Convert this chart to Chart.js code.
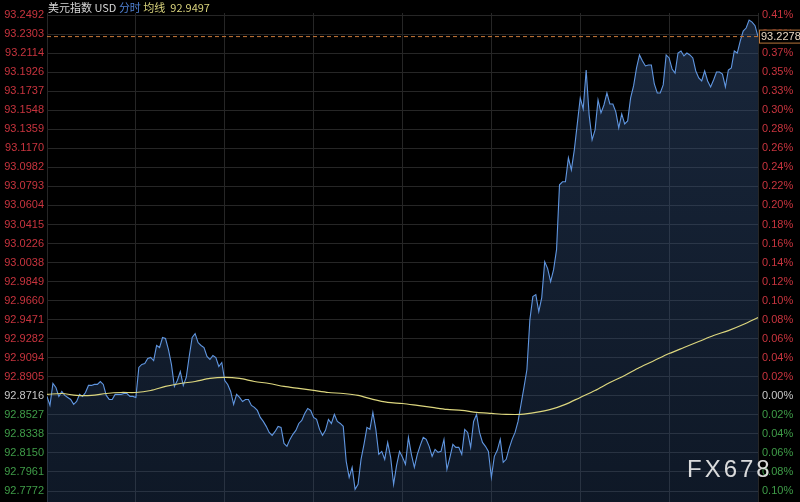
<!DOCTYPE html>
<html>
<head>
<meta charset="utf-8">
<script src="https://cdn.jsdelivr.net/npm/chart.js@4.4.0/dist/chart.umd.min.js"></script>
<style>
  html, body { margin: 0; padding: 0; background: #000; }
  #wrap { position: relative; width: 800px; height: 502px; overflow: hidden; }
  #header { position: absolute; left: 48px; top: 0; font-size: 11px; line-height: 14px;
            font-family: "Noto Sans CJK SC", "Liberation Sans", sans-serif; white-space: pre; }
  #mark { position: absolute; left: 687px; top: 455px; font-size: 24px; letter-spacing: 3px;
          font-family: "Liberation Sans", Arial, sans-serif; color: rgba(235,235,235,0.92); }
</style>
</head>
<body>
<div id="wrap">
  <canvas id="chart" width="800" height="502"></canvas>
  <div id="header"><span style="color:#d6d6d6">美元指数 USD</span> <span style="color:#4f80d2">分时</span> <span style="color:#d8d27c">均线</span>  <span id="avgText" style="color:#d8d27c"></span></div>
  <div id="mark">FX678</div>
</div>
<script>
// tick labels, top to bottom
const priceTickLabels = ["93.2492", "93.2303", "93.2114", "93.1926", "93.1737", "93.1548", "93.1359",
    "93.1170", "93.0982", "93.0793", "93.0604", "93.0415", "93.0226", "93.0038", "92.9849", "92.9660",
    "92.9471", "92.9282", "92.9094", "92.8905", "92.8716", "92.8527", "92.8338", "92.8150", "92.7961", "92.7772"];
const pctTickLabels = ["0.41%", "0.39%", "0.37%", "0.35%", "0.33%", "0.30%", "0.28%", "0.26%", "0.24%",
    "0.22%", "0.20%", "0.18%", "0.16%", "0.14%", "0.12%", "0.10%", "0.08%", "0.06%", "0.04%", "0.02%",
    "0.00%", "0.02%", "0.04%", "0.06%", "0.08%", "0.10%"];

const basePrice = 92.8716;
const lastPrice = 93.2278;
const avgLast = "92.9497";

// price every 6 minutes over the session (1440 min)
const prices = [
    92.8710, 92.8621, 92.8838, 92.8799, 92.8710, 92.8759, 92.8720, 92.8700, 92.8680, 92.8631,
    92.8660, 92.8730, 92.8710, 92.8749, 92.8819, 92.8819, 92.8829, 92.8829, 92.8858, 92.8829,
    92.8720, 92.8680, 92.8680, 92.8730, 92.8730, 92.8730, 92.8739, 92.8739, 92.8710, 92.8710,
    92.8700, 92.8997, 92.9027, 92.9036, 92.9086, 92.9096, 92.9066, 92.9215, 92.9195, 92.9294,
    92.9284, 92.9175, 92.9027, 92.8809, 92.8868, 92.8957, 92.8819, 92.8898, 92.9106, 92.9294,
    92.9333, 92.9244, 92.9215, 92.9195, 92.9106, 92.9076, 92.9116, 92.9096, 92.9007, 92.9046,
    92.8868, 92.8829, 92.8759, 92.8631, 92.8730, 92.8700, 92.8660, 92.8680, 92.8680, 92.8621,
    92.8601, 92.8571, 92.8502, 92.8462, 92.8413, 92.8353, 92.8324, 92.8363, 92.8413, 92.8403,
    92.8244, 92.8215, 92.8284, 92.8334, 92.8373, 92.8442, 92.8472, 92.8541, 92.8591, 92.8571,
    92.8502, 92.8482, 92.8383, 92.8324, 92.8373, 92.8482, 92.8442, 92.8532, 92.8462, 92.8442,
    92.8413, 92.8066, 92.7908, 92.8007, 92.7789, 92.7839, 92.8086, 92.8235, 92.8403, 92.8383,
    92.8551, 92.8383, 92.8136, 92.8165, 92.8086, 92.8254, 92.8106, 92.7839, 92.8027, 92.8165,
    92.8106, 92.8037, 92.8304, 92.8136, 92.8007, 92.8136, 92.8225, 92.8304, 92.8284, 92.8215,
    92.8116, 92.8185, 92.8155, 92.8165, 92.8284, 92.7987, 92.8106, 92.8235, 92.8205, 92.8205,
    92.8136, 92.8383, 92.8353, 92.8205, 92.8462, 92.8532, 92.8353, 92.8254, 92.8215, 92.8165,
    92.7908, 92.8116, 92.8175, 92.8284, 92.8056, 92.8086, 92.8195, 92.8284, 92.8353, 92.8462,
    92.8631, 92.8799, 92.8977, 92.9472, 92.9700, 92.9719, 92.9551, 92.9690, 93.0046, 92.9977,
    92.9848, 92.9967, 93.0165, 93.0809, 93.0838, 93.0838, 93.1076, 93.0957, 93.1155, 93.1412,
    93.1670, 93.1561, 93.1947, 93.1502, 93.1254, 93.1353, 93.1650, 93.1521, 93.1600, 93.1719,
    93.1610, 93.1610, 93.1531, 93.1373, 93.1511, 93.1412, 93.1442, 93.1670, 93.1789, 93.1967,
    93.2096, 93.2036, 93.1987, 93.1997, 93.1997, 93.1808, 93.1719, 93.1719, 93.1799, 93.2096,
    93.2066, 93.1957, 93.1917, 93.2115, 93.2135, 93.2086, 93.2115, 93.2096, 93.2066, 93.1937,
    93.1868, 93.1838, 93.1937, 93.1838, 93.1779, 93.1848, 93.1927, 93.1927, 93.1907, 93.1779,
    93.1947, 93.1967, 93.2135, 93.2115, 93.2234, 93.2333, 93.2363, 93.2442, 93.2422, 93.2386,
    93.2278
];

// average line every 30 minutes
const avgPrices = [
    92.8730, 92.8739, 92.8720, 92.8720, 92.8739, 92.8749, 92.8749, 92.8769, 92.8809, 92.8838,
    92.8858, 92.8888, 92.8898, 92.8888, 92.8858, 92.8838, 92.8809, 92.8789, 92.8769, 92.8749,
    92.8739, 92.8720, 92.8680, 92.8650, 92.8640, 92.8621, 92.8601, 92.8581, 92.8571, 92.8551,
    92.8541, 92.8532, 92.8532, 92.8551, 92.8581, 92.8631, 92.8700, 92.8769, 92.8848, 92.8918,
    92.8997, 92.9066, 92.9135, 92.9195, 92.9254, 92.9314, 92.9363, 92.9423, 92.9492
];

const sessionMinutes = 1440;
const priceStep = 6;
const avgStep = 30;

document.getElementById("avgText").textContent = avgLast;

const tickValues = priceTickLabels.map(Number).sort((a, b) => a - b);
const labelFor = (v, list) => {
    let i = priceTickLabels.findIndex(s => Math.abs(Number(s) - v) < 1e-6);
    return i >= 0 ? list[i] : "";
};
const tickColor = c => {
    let v = c.tick ? c.tick.value : 0;
    if (Math.abs(v - basePrice) < 1e-6) return "#c8c8c8";
    return v > basePrice ? "#c8343e" : "#3f9c48";
};
// no extra room for half labels at the ends
const fitY = w => s => { s.width = w; s.paddingTop = 0; s.paddingBottom = 0; };

// price box on the right axis
const priceBox = {
    id: "priceBox",
    afterDraw(chart) {
        let ctx = chart.ctx;
        let y = chart.scales.y.getPixelForValue(lastPrice);
        let x = chart.chartArea.right + 1;
        ctx.save();
        ctx.fillStyle = "#000";
        ctx.fillRect(x, y - 7, 42, 14);
        ctx.strokeStyle = "#b8753a";
        ctx.lineWidth = 1;
        ctx.strokeRect(x + 0.5, y - 6.5, 41, 13);
        ctx.fillStyle = "#e6d6c0";
        ctx.font = "11px 'Liberation Sans', Arial, sans-serif";
        ctx.textBaseline = "middle";
        ctx.fillText(lastPrice.toFixed(4), x + 2, y + 0.5);
        ctx.restore();
    }
};

const ctx = document.getElementById("chart").getContext("2d");
new Chart(ctx, {
    type: "line",
    data: {
        datasets: [
            {
                data: [{ x: 0, y: lastPrice }, { x: sessionMinutes, y: lastPrice }],
                borderColor: "#c87838",
                borderWidth: 1,
                borderDash: [4, 3],
                pointRadius: 0,
                order: 0
            },
            {
                data: avgPrices.map((p, i) => ({ x: i * avgStep, y: p })),
                borderColor: "#dcd67e",
                borderWidth: 1.2,
                pointRadius: 0,
                tension: 0.3,
                order: 1
            },
            {
                data: prices.map((p, i) => ({ x: i * priceStep, y: p })),
                borderColor: "#6096e0",
                borderWidth: 1.1,
                pointRadius: 0,
                fill: "start",
                backgroundColor: c => {
                    let area = c.chart.chartArea;
                    if (!area) return "rgba(50,80,125,0.4)";
                    let g = c.chart.ctx.createLinearGradient(0, area.top, 0, area.bottom);
                    g.addColorStop(0, "rgba(55,85,130,0.45)");
                    g.addColorStop(1, "rgba(45,75,120,0.32)");
                    return g;
                },
                order: 2
            }
        ]
    },
    options: {
        responsive: false,
        animation: false,
        devicePixelRatio: 1,
        layout: { padding: { top: 13, bottom: 0, left: 0, right: 0 } },
        plugins: { legend: { display: false }, tooltip: { enabled: false } },
        scales: {
            x: {
                type: "linear",
                min: 0,
                max: sessionMinutes,
                ticks: { display: false, stepSize: 180, padding: 0 },
                grid: { color: "#262626", drawTicks: false },
                border: { display: false },
                afterFit: s => { s.height = 0; s.paddingLeft = 0; s.paddingRight = 0; }
            },
            y: {
                position: "left",
                min: 92.7663,
                max: 93.2512,
                afterBuildTicks: s => { s.ticks = tickValues.map(v => ({ value: v })); },
                ticks: {
                    callback: v => labelFor(v, priceTickLabels),
                    color: tickColor,
                    font: { family: "'Liberation Sans', Arial, sans-serif", size: 11 },
                    padding: 3,
                    autoSkip: false
                },
                grid: { color: "#262626", drawTicks: false },
                border: { display: false },
                afterFit: fitY(47)
            },
            y2: {
                position: "right",
                min: 92.7663,
                max: 93.2512,
                afterBuildTicks: s => { s.ticks = tickValues.map(v => ({ value: v })); },
                ticks: {
                    callback: v => labelFor(v, pctTickLabels),
                    color: tickColor,
                    font: { family: "'Liberation Sans', Arial, sans-serif", size: 11 },
                    padding: 4,
                    autoSkip: false
                },
                grid: { display: false, drawTicks: false },
                border: { display: false },
                afterFit: fitY(42)
            }
        }
    },
    plugins: [priceBox]
});
</script>
</body>
</html>
